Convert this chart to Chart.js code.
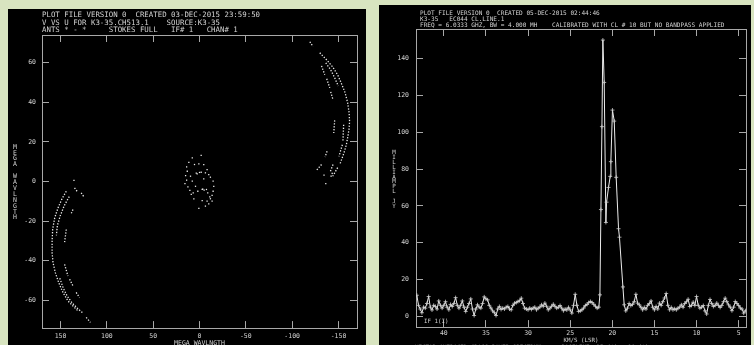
<!DOCTYPE html>
<html><head><meta charset="utf-8">
<script src="https://cdn.jsdelivr.net/npm/chart.js@4/dist/chart.umd.min.js"></script>
<style>
html,body{margin:0;padding:0;background:#d8e4c0;width:754px;height:345px;overflow:hidden;}
#p1{position:absolute;left:8px;top:9px;width:358px;height:336px;background:#000;}
#p2{position:absolute;left:379px;top:5px;width:372px;height:340px;background:#000;}
canvas{display:block}
</style></head><body>
<div id="p1"><canvas id="c1" width="358" height="336"></canvas></div>
<div id="p2"><canvas id="c2" width="372" height="340"></canvas></div>
<script>
// ---------------- LEFT PANEL DATA : V vs U coverage (mega-wavelengths) ----------------
const uvHeader = [
  'PLOT FILE VERSION 0  CREATED 03-DEC-2015 23:59:50',
  'V VS U FOR K3-35.CH513.1    SOURCE:K3-35',
  'ANTS * - *     STOKES FULL   IF# 1   CHAN# 1'
];
const uvAxisLabel = 'MEGA WAVLNGTH';
const uTicks = [150, 100, 50, 0, -50, -100, -150];
const vTicks = [60, 40, 20, 0, -20, -40, -60];

// tracks at negative U (right side of plot); each inner array = one dotted track piece [u, v]
const uvTracksNegU = [
  [[-119.1,70.6],[-122.6,68.1]],
  [[-129.8,65.0],[-137.3,61.4],[-143.7,57.9],[-149.1,53.9],[-153.4,49.3],[-157.2,44.8],[-159.9,39.8],[-161.5,34.7],[-162.0,30.2],[-161.3,26.2],[-159.9,22.2],[-158.5,18.6],[-156.7,15.6],[-154.5,12.6],[-151.8,9.1]],
  [[-149.1,7.0],[-143.8,2.7]],
  [[-131.7,58.4],[-135.2,53.9]],
  [[-137.3,51.9],[-140.6,47.3]],
  [[-141.6,45.3],[-144.1,41.3]],
  [[-136.3,59.9],[-141.6,56.4],[-145.9,52.4],[-149.7,48.3]],
  [[-145.9,30.9],[-144.9,24.5]],
  [[-155.6,28.7],[-154.8,20.3]],
  [[-154.2,18.6],[-150.5,12.7]],
  [[-137.7,15.3],[-135.5,12.4]],
  [[-144.1,8.6],[-141.3,5.2]],
  [[-131.7,8.6],[-126.3,5.7]],
  [[-143.5,4.4],[-141.3,1.9]]
];
// tracks at positive U (left side of plot)
const uvTracksPosU = [
  [[143.8,-4.9],[148.4,-8.7],[152.7,-13.3],[156.3,-18.3],[158.5,-24.2],[159.1,-30.1],[159.1,-35.9],[158.1,-40.9],[155.6,-46.0],[152.0,-51.0],[147.3,-56.1],[142.0,-60.3],[136.6,-62.8],[131.2,-65.3]],
  [[122.3,-68.6],[117.7,-71.1]],
  [[140.6,-7.6],[145.9,-12.1],[150.2,-17.1],[153.4,-22.2],[154.5,-27.2]],
  [[150.8,-48.8],[147.0,-53.9],[142.7,-57.9],[137.3,-61.4],[130.9,-64.4],[125.5,-66.5]],
  [[127.7,-5.7],[124.8,-7.7]],
  [[134.9,-3.2],[132.0,-5.0]],
  [[136.6,-14.1],[138.4,-16.1]],
  [[143.8,-24.2],[145.6,-30.6]],
  [[145.6,-41.8],[142.0,-47.7]],
  [[140.2,-49.3],[136.6,-52.7]],
  [[133.1,-56.0],[129.5,-58.6]]
];
// isolated samples
const uvLoneDots = [[135.5,0.65],[-134.4,3.2],[-136.3,-1.0]];
// short-baseline samples near the origin
const uvCoreDots = [
  [-1.8,13.2],[7.8,11.9],[11.5,9.7],[5.4,8.6],[0.7,8.9],[13.9,7.4],[13.2,5.2],[15.0,3.0],[13.9,0.7],[15.7,-1.0],
  [12.5,-2.7],[10.4,-4.4],[6.8,-5.7],[1.8,-4.9],[-2.9,-4.0],[-7.5,-4.0],[2.5,3.9],[-1.8,4.7],[-6.4,4.4],[-10.0,3.5],
  [-11.8,2.2],[-14.7,0.2],[-15.4,-2.4],[-14.7,-4.9],[-13.6,-7.0],[-11.8,-8.7],[-8.2,-9.9],[-2.9,-9.6],[-10.0,-11.3],[-6.4,-12.4],
  [0.7,-13.6],[6.1,-8.7],[8.9,-6.5],[4.3,-2.4],[-8.2,6.0],[-4.6,8.6],[-8.9,-5.7],[-11.1,-7.7],[9.7,2.7],[7.8,0.2],
  [-4.6,1.3],[-13.6,-9.9],[3.5,4.2],[-3.5,-3.8],[0,4.6],[-5,-4.3]
];

// ---------------- RIGHT PANEL DATA : spectrum ----------------
const specHeader = [
  'PLOT FILE VERSION 0  CREATED 05-DEC-2015 02:44:46',
  'K3-35   EC044 CL.LINE.1',
  'FREQ = 6.0333 GHZ, BW = 4.000 MH    CALIBRATED WITH CL # 10 BUT NO BANDPASS APPLIED'
];
const specYLabel = 'MILLIAMPL JY';
const specXLabel = 'KM/S (LSR)';
const specIfLabel = 'IF 1(I)';
const specFooter = 'VECTOR AVERAGED CROSS POWER SPECTRUM      BASELINE: 25 (*) - 31 (*)';
const velTicks = [40, 35, 30, 25, 20, 15, 10, 5];
const fluxTicks = [0, 20, 40, 60, 80, 100, 120, 140];

const velocityKms = [
  43.2,43.0,42.8,42.6,42.4,42.2,42.0,41.8,41.6,41.4,
  41.2,41.0,40.8,40.6,40.4,40.2,40.0,39.8,39.6,39.4,
  39.2,39.0,38.8,38.6,38.4,38.2,38.0,37.8,37.6,37.4,
  37.2,37.0,36.8,36.6,36.4,36.2,36.0,35.8,35.6,35.4,
  35.2,35.0,34.8,34.6,34.4,34.2,34.0,33.8,33.6,33.4,
  33.2,33.0,32.8,32.6,32.4,32.2,32.0,31.8,31.6,31.4,
  31.2,31.0,30.8,30.6,30.4,30.2,30.0,29.8,29.6,29.4,
  29.2,29.0,28.8,28.6,28.4,28.2,28.0,27.8,27.6,27.4,
  27.2,27.0,26.8,26.6,26.4,26.2,26.0,25.8,25.6,25.4,
  25.2,25.0,24.8,24.6,24.4,24.2,24.0,23.8,23.6,23.4,
  23.2,23.0,22.8,22.6,22.4,22.2,22.0,21.8,21.6,
  21.47,21.35,21.23,21.12,20.96,20.76,20.68,20.45,20.25,20.17,
  19.98,19.77,19.54,19.26,19.15,18.74,18.59,
  18.4,18.2,18.0,17.8,17.6,17.4,17.2,17.0,16.8,16.6,
  16.4,16.2,16.0,15.8,15.6,15.4,15.2,15.0,14.8,14.6,
  14.4,14.2,14.0,13.8,13.6,13.4,13.2,13.0,12.8,12.6,
  12.4,12.2,12.0,11.8,11.6,11.4,11.2,11.0,10.8,10.6,
  10.4,10.2,10.0,9.8,9.6,9.4,9.2,9.0,8.8,8.6,
  8.4,8.2,8.0,7.8,7.6,7.4,7.2,7.0,6.8,6.6,
  6.4,6.2,6.0,5.8,5.6,5.4,5.2,5.0,4.8,4.6,
  4.4,4.2
];
const fluxMilliJy = [
  11.5,6,4,2,5,4.5,7,10.8,5,3.5,
  6,5.4,4,8.4,6,4.5,6,8,5,3.6,
  6.5,5.4,7,10.2,6,4.5,6,8.4,5,2.7,
  5,7,9.5,4,0.5,4,6.3,5,4.5,7,
  10.6,9.5,9,6,4.5,3,2,0.5,4,5.4,
  3.8,4.5,4,5,5.4,4,3.6,6,7.2,7.5,
  8.1,8.5,9.9,7,4.5,4,3.6,4.5,3.8,4.5,
  5,3.6,4.5,5,6.3,5.5,7.2,5.5,3.6,4.5,
  5.5,6.6,5.5,4.5,5,5.9,4.5,3.1,4,3.5,
  4.9,3.5,1.8,6,12,6,2.7,3,3.6,4.5,
  5.9,6.5,7.5,8.1,7.5,6.6,5.5,4.5,5,
  11.7,58,103,150,127,51,62,70,76,84,
  112,106,75.5,47.6,43,16,6.3,
  3,4.5,7,5.9,6.5,8,12,7.2,6.3,5,
  3.6,4.9,4,6,7,8.4,5,3.6,5.4,4,
  7.2,6,8,10,12.4,6,3.6,4.9,3.6,4.2,
  3.6,4.5,5,6.3,5,7,8,9.3,5.4,6,
  7.7,6,10.8,6,4.5,5,5.9,3,1.3,6,
  9.2,7,5.4,6,7.2,6,4.9,6,8,9.9,
  8,6.3,5,3.1,5,8.1,7,5.9,4.5,4,
  1.8,3.1
];

// ---------------- rendering ----------------
const MONO = "'DejaVu Sans Mono', 'Liberation Mono', monospace";
const FRAME = '#a8a8a8', TXT = '#d2d2d2', INK = '#ececec';

function frameAxis(o) {
  const horiz = o.pos === 'top' || o.pos === 'bottom';
  return {
    type: 'linear', position: o.pos, min: o.min, max: o.max, reverse: !!o.reverse,
    ticks: { display: o.labels, stepSize: o.step, color: TXT, padding: o.pad || 0,
             font: { size: o.fs, family: MONO }, maxRotation: 0, autoSkip: false },
    grid: { drawOnChartArea: false, drawTicks: true, tickLength: -7, color: FRAME, lineWidth: 1 },
    border: { display: true, color: FRAME, width: 1 },
    afterBuildTicks(s) { s.ticks = o.keep.map(v => ({ value: v })); },
    afterFit(s) { if (horiz) s.height = o.size; else s.width = o.size; }
  };
}

const aipsText = {
  id: 'aipsText',
  afterDraw(chart, args, t) {
    const ctx = chart.ctx, ca = chart.chartArea;
    ctx.save();
    ctx.fillStyle = TXT;
    ctx.textAlign = 'left';
    ctx.textBaseline = 'middle';
    ctx.font = t.headerFont;
    t.header.forEach((s, i) => ctx.fillText(s, t.hx, t.hy + i * t.hStep));
    ctx.font = t.labelFont;
    ctx.textAlign = 'center';
    [...t.yLabel].forEach((ch, i) => ctx.fillText(ch, t.yx, t.yy + i * t.yStep));
    ctx.textBaseline = 'top';
    ctx.fillText(t.xLabel, (ca.left + ca.right) / 2, t.xy);
    if (t.extra) {
      ctx.textAlign = 'left';
      t.extra.forEach(e => { ctx.textBaseline = e.base; ctx.fillText(e.text, e.x, e.y); });
    }
    ctx.restore();
  }
};

// ---- left chart ----
const trackStyle = { showLine: true, pointRadius: 0, borderColor: INK, borderWidth: 1.3, borderDash: [1.3, 1.6], fill: false };
const leftSets = [];
uvTracksNegU.concat(uvTracksPosU).forEach(tr => {
  leftSets.push(Object.assign({ data: tr.map(p => ({ x: p[0], y: p[1] })) }, trackStyle));
});
leftSets.push({ data: uvLoneDots.concat(uvCoreDots).map(p => ({ x: p[0], y: p[1] })),
  showLine: false, pointStyle: 'rect', pointRadius: 0.9, backgroundColor: INK, borderWidth: 0 });

new Chart(document.getElementById('c1'), {
  type: 'scatter',
  data: { datasets: leftSets },
  options: {
    responsive: false, animation: false, events: [], devicePixelRatio: 1,
    layout: { padding: 0 },
    plugins: {
      legend: { display: false }, tooltip: { enabled: false },
      aipsText: { header: uvHeader, headerFont: '7.4px ' + MONO, hx: 34, hy: 6, hStep: 7.6,
        yLabel: uvAxisLabel, labelFont: '6.5px ' + MONO, yx: 7, yy: 138, yStep: 5.9,
        xLabel: uvAxisLabel, xy: 331.5 }
    },
    scales: {
      x:  frameAxis({ pos: 'bottom', min: -170, max: 170, reverse: true, step: 50, labels: true, fs: 6.5, pad: 11, size: 16, keep: uTicks }),
      x2: frameAxis({ pos: 'top', min: -170, max: 170, reverse: true, step: 50, labels: false, fs: 6.5, size: 26, keep: uTicks }),
      y:  frameAxis({ pos: 'left', min: -74, max: 74, step: 20, labels: true, fs: 6.5, pad: 13, size: 34, keep: vTicks }),
      y2: frameAxis({ pos: 'right', min: -74, max: 74, step: 20, labels: false, fs: 6.5, size: 9, keep: vTicks })
    }
  },
  plugins: [aipsText]
});

// ---- right chart ----
new Chart(document.getElementById('c2'), {
  type: 'scatter',
  data: { datasets: [{
    data: velocityKms.map((v, i) => ({ x: v, y: fluxMilliJy[i] })),
    showLine: true, borderColor: INK, borderWidth: 1, fill: false,
    pointStyle: 'cross', pointRadius: 2, pointBorderColor: '#d0d0d0', pointBorderWidth: 0.8
  }] },
  options: {
    responsive: false, animation: false, events: [], devicePixelRatio: 1,
    layout: { padding: 0 },
    plugins: {
      legend: { display: false }, tooltip: { enabled: false },
      aipsText: { header: specHeader, headerFont: '6.1px ' + MONO, hx: 41, hy: 8.3, hStep: 5.9,
        yLabel: specYLabel, labelFont: '5.8px ' + MONO, yx: 15, yy: 147.5, yStep: 4.9,
        xLabel: specXLabel, xy: 332.5,
        extra: [ { text: specIfLabel, x: 45, y: 316.7, base: 'middle' },
                 { text: specFooter, x: 36, y: 339.5, base: 'top' } ] }
    },
    scales: {
      x:  frameAxis({ pos: 'bottom', min: 4.13, max: 43.3, reverse: true, step: 5, labels: true, fs: 6.5, pad: 9, size: 16, keep: velTicks }),
      x2: frameAxis({ pos: 'top', min: 4.13, max: 43.3, reverse: true, step: 5, labels: false, fs: 6.5, size: 24, keep: velTicks }),
      y:  frameAxis({ pos: 'left', min: -5.8, max: 156, step: 20, labels: true, fs: 6.5, pad: 14, size: 37, keep: fluxTicks }),
      y2: frameAxis({ pos: 'right', min: -5.8, max: 156, step: 20, labels: false, fs: 6.5, size: 5, keep: fluxTicks })
    }
  },
  plugins: [aipsText]
});
</script></body></html>
